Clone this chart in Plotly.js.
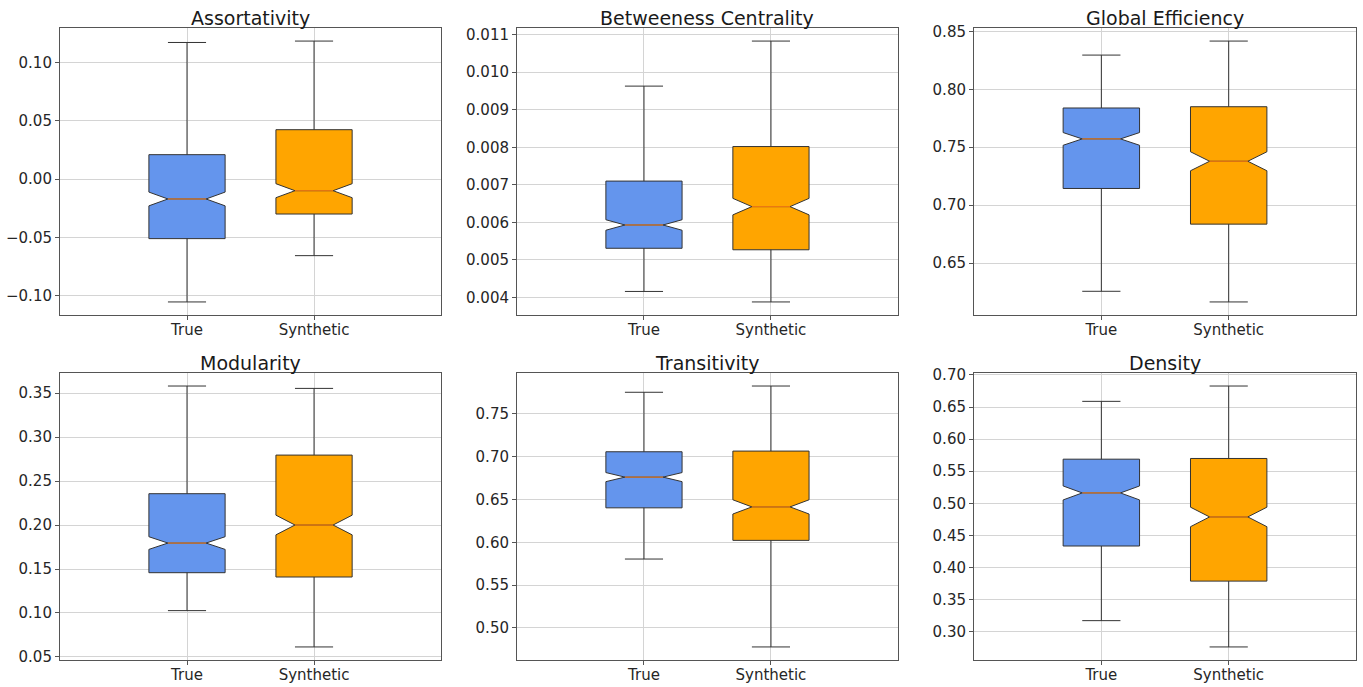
<!DOCTYPE html>
<html>
<head>
<meta charset="utf-8">
<script src="https://cdn.plot.ly/plotly-3.0.1.min.js"></script>
<style>html,body{margin:0;padding:0;background:#fff;}#chart{width:1363px;height:687px;}</style>
</head>
<body>
<div id="chart"></div>
<script>
// ---- data ----
const metrics = ['Assortativity', 'Betweeness Centrality', 'Global Efficiency', 'Modularity', 'Transitivity', 'Density'];
const groups = ['True', 'Synthetic'];
const positions = [1, 2];

const trueLower  = [-0.1054, 0.00416, 0.6256, 0.1027, 0.5805, 0.3171];
const trueQ1     = [-0.0511, 0.00531, 0.7144, 0.1458, 0.6403, 0.4334];
const trueMedian = [-0.0171, 0.00593, 0.7572, 0.1795, 0.6762, 0.5161];
const trueQ3     = [ 0.0209, 0.00710, 0.7839, 0.2356, 0.7058, 0.5687];
const trueUpper  = [ 0.1171, 0.00963, 0.8296, 0.3580, 0.7753, 0.6588];
const trueNotch  = [ 0.0059, 0.00014, 0.0055, 0.0072, 0.0053, 0.0109];

const synLower   = [-0.0657, 0.00388, 0.6164, 0.0614, 0.4778, 0.2761];
const synQ1      = [-0.0300, 0.00527, 0.6836, 0.1409, 0.6023, 0.3787];
const synMedian  = [-0.0100, 0.00642, 0.7379, 0.2000, 0.6414, 0.4787];
const synQ3      = [ 0.0423, 0.00802, 0.7850, 0.2795, 0.7066, 0.5698];
const synUpper   = [ 0.1183, 0.01083, 0.8417, 0.3553, 0.7826, 0.6827];
const synNotch   = [ 0.0060, 0.00022, 0.0082, 0.0112, 0.0083, 0.0152];

const yDtick  = [0.05, 0.001, 0.05, 0.05, 0.05, 0.05];
const yFormat = ['.2f', '.3f', '.2f', '.2f', '.2f', '.2f'];

// ---- styling ----
const FONT = 'DejaVu Sans, Liberation Sans, sans-serif';
const colors = ['#6495ED', '#FFA500'];
const boxWidth = 0.6;
const notchW = 0.25;
const xDomains = [[0.0440, 0.3236], [0.3793, 0.6588], [0.7146, 0.9949]];
const yDomains = [[0.5415, 0.9592], [0.0393, 0.4571]];

const series = [
  {lo: trueLower, q1: trueQ1, med: trueMedian, q3: trueQ3, hi: trueUpper, notch: trueNotch},
  {lo: synLower, q1: synQ1, med: synMedian, q3: synQ3, hi: synUpper, notch: synNotch}
];

const data = [];
const layout = {
  width: 1363, height: 687,
  margin: {l: 0, r: 0, t: 0, b: 0},
  paper_bgcolor: '#ffffff', plot_bgcolor: '#ffffff',
  showlegend: false,
  font: {family: FONT, size: 14, color: '#262626'},
  annotations: []
};

metrics.forEach((m, i) => {
  const sfx = i === 0 ? '' : String(i + 1);
  const xa = 'x' + sfx, ya = 'y' + sfx;
  const row = Math.floor(i / 3), col = i % 3;

  series.forEach((s, g) => {
    data.push({
      type: 'box', xaxis: xa, yaxis: ya,
      name: groups[g],
      x: [positions[g]],
      q1: [s.q1[i]], median: [s.med[i]], q3: [s.q3[i]],
      lowerfence: [s.lo[i]], upperfence: [s.hi[i]],
      notchspan: [s.notch[i]],
      notched: true, notchwidth: notchW,
      width: boxWidth, whiskerwidth: 0.5,
      boxpoints: false,
      fillcolor: colors[g],
      line: {color: '#333333', width: 1},
      hoverinfo: 'skip'
    });
    // orange median line (matplotlib style) spanning the notch waist
    const half = boxWidth / 2 * (1 - 2 * notchW);
    data.push({
      type: 'scatter', mode: 'lines', xaxis: xa, yaxis: ya,
      x: [positions[g] - half, positions[g] + half],
      y: [s.med[i], s.med[i]],
      line: {color: '#ff7f0e', width: 1},
      hoverinfo: 'skip', showlegend: false
    });
  });

  // y range: data extent padded by 5% (matplotlib autoscale)
  const all = series.flatMap(s => [s.lo[i], s.hi[i]]);
  const mn = Math.min(...all), mx = Math.max(...all);
  const pad = (mx - mn) * 0.05;

  layout['xaxis' + sfx] = {
    domain: xDomains[col], anchor: ya,
    range: [0, 3],
    tickmode: 'array', tickvals: positions, ticktext: groups,
    showgrid: true, gridcolor: '#d4d4d4', gridwidth: 1,
    zeroline: false,
    showline: true, mirror: true, linecolor: '#555555', linewidth: 1,
    ticks: 'outside', ticklen: 4, tickcolor: '#555555',
    ticklabelstandoff: -3,
    tickfont: {family: FONT, size: 15, color: '#262626'},
    fixedrange: true
  };
  layout['yaxis' + sfx] = {
    domain: yDomains[row], anchor: xa,
    range: [mn - pad, mx + pad],
    tickmode: 'linear', tick0: 0, dtick: yDtick[i], tickformat: yFormat[i],
    showgrid: true, gridcolor: '#d4d4d4', gridwidth: 1,
    zeroline: false,
    showline: true, mirror: true, linecolor: '#555555', linewidth: 1,
    ticks: 'outside', ticklen: 4, tickcolor: '#555555',
    tickfont: {family: FONT, size: 15, color: '#262626'},
    fixedrange: true
  };
  layout.annotations.push({
    text: m, showarrow: false,
    xref: 'paper', yref: 'paper',
    x: (xDomains[col][0] + xDomains[col][1]) / 2,
    y: yDomains[row][1],
    xanchor: 'center', yanchor: 'bottom', yshift: -3,
    font: {family: FONT, size: 19, color: '#1a1a1a'}
  });
});

Plotly.newPlot('chart', data, layout, {displayModeBar: false, staticPlot: true});
</script>
</body>
</html>
